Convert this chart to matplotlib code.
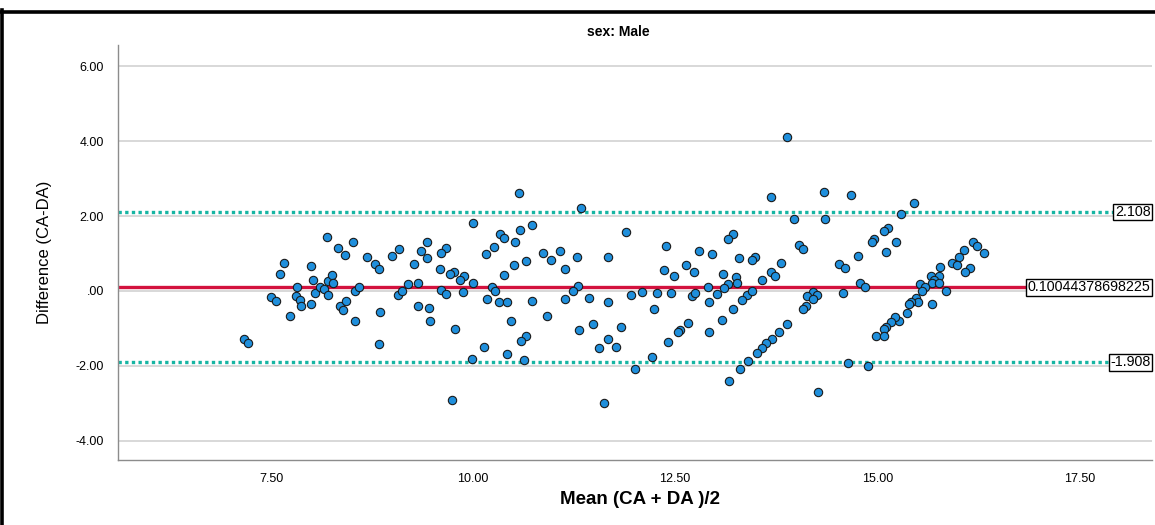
import matplotlib
matplotlib.use('Agg')
import matplotlib.pyplot as plt
from matplotlib.lines import Line2D

# Bland-Altman data (mean, difference)
mean_vals = [
    7.16, 7.21, 7.50, 7.56, 7.66, 7.61, 7.74, 7.82, 7.81, 7.86, 7.87, 7.99, 8.00, 8.02, 8.04,
    8.11, 8.15, 8.20, 8.26, 8.27, 8.21, 8.19, 8.33, 8.42, 8.51, 8.35, 8.43, 8.39, 8.54, 8.54,
    8.59, 8.69, 8.78, 8.84, 8.85, 8.83, 9.00, 9.08, 9.07, 9.12, 9.20, 9.32, 9.27, 9.35, 9.43,
    9.43, 9.32, 9.46, 9.47,
    10.57, 11.33, 10.00, 10.58, 10.73, 10.33, 10.38, 10.52, 10.26, 10.16, 11.89, 9.67, 9.60,
    10.86, 11.08, 10.96, 11.28, 11.67, 10.66, 10.51, 11.14, 9.59, 9.76, 9.71, 9.89, 9.84,
    10.38, 10.00, 10.23, 11.30, 9.60, 9.67, 9.88, 10.27, 10.17, 10.32, 10.42, 10.73, 11.23,
    11.14, 11.44, 11.67, 11.95, 9.78, 10.47, 10.91, 11.31, 11.48, 11.83, 10.66, 10.59, 10.13,
    10.42, 9.98, 10.63, 11.67, 11.56, 11.77, 12.00, 9.74, 11.62,
    13.88, 14.34, 13.69, 13.97, 14.36, 13.21, 13.15, 12.39, 14.03, 14.08, 12.80, 12.95, 13.29,
    13.49, 13.45, 13.81, 14.53, 12.63, 12.36, 12.73, 12.48, 13.09, 13.25, 13.68, 13.74, 13.58,
    13.26, 13.15, 12.91, 13.10, 12.09, 12.27, 12.45, 12.71, 12.74, 13.02, 12.92, 13.39, 13.45,
    13.33, 14.20, 14.13, 14.26, 14.21, 14.12, 14.08, 14.58, 12.24, 13.21, 13.08, 12.66, 12.56,
    12.54, 12.92, 12.41, 13.88, 13.78, 13.70, 13.63, 13.57, 13.51, 13.40, 13.30, 12.21, 13.16,
    14.27,
    14.68, 15.45, 15.30, 15.13, 15.08, 14.96, 14.94, 15.23, 15.11, 14.76, 14.60, 14.79, 14.85,
    16.18, 16.23, 16.32, 16.08, 16.01, 15.92, 15.99, 15.78, 16.15, 16.09, 15.66, 15.76, 15.70,
    15.68, 15.76, 15.53, 15.59, 15.56, 15.85, 15.48, 15.51, 15.42, 15.39, 15.68, 15.37, 15.27,
    15.22, 15.17, 15.11, 15.08, 14.99, 15.09, 14.64, 14.89,
]
diff_vals = [
    -1.29, -1.40, -0.17, -0.26, 0.75, 0.45, -0.67, 0.10, -0.14, -0.24, -0.40, -0.36, 0.67, 0.30, -0.05,
    0.11, 0.06, 0.27, 0.42, 0.20, -0.12, 1.45, 1.15, 0.95, 1.31, -0.40, -0.26, -0.51, -0.80, 0.00,
    0.11, 0.90, 0.72, 0.59, -0.56, -1.41, 0.93, 1.11, -0.11, -0.01, 0.18, 0.21, 0.72, 1.07, 1.31,
    0.88, -0.40, -0.46, -0.80,
    2.61, 2.21, 1.81, 1.63, 1.76, 1.52, 1.42, 1.30, 1.18, 0.98, 1.57, 1.15, 1.00,
    1.02, 1.07, 0.82, 0.90, 0.90, 0.81, 0.69, 0.59, 0.58, 0.51, 0.44, 0.41, 0.29,
    0.42, 0.20, 0.11, 0.14, 0.01, -0.08, -0.03, -0.01, -0.22, -0.30, -0.30, -0.27, 0.00,
    -0.21, -0.18, -0.30, -0.11, -1.03, -0.80, -0.67, -1.04, -0.89, -0.96, -1.20, -1.34, -1.50,
    -1.69, -1.82, -1.86, -1.29, -1.53, -1.50, -2.09, -2.91, -3.00,
    4.10, 2.65, 2.50, 1.91, 1.91, 1.51, 1.39, 1.20, 1.22, 1.12, 1.06, 0.98, 0.88,
    0.91, 0.83, 0.75, 0.72, 0.70, 0.56, 0.50, 0.39, 0.46, 0.38, 0.51, 0.41, 0.28,
    0.21, 0.18, 0.11, 0.07, -0.04, -0.05, -0.07, -0.14, -0.07, -0.09, -0.29, -0.11, 0.00,
    -0.24, -0.02, -0.15, -0.11, -0.22, -0.40, -0.48, -0.05, -0.49, -0.49, -0.77, -0.85, -1.04,
    -1.10, -1.10, -1.36, -0.89, -1.11, -1.29, -1.39, -1.54, -1.65, -1.88, -2.09, -1.77, -2.40,
    -2.70,
    2.56, 2.36, 2.05, 1.69, 1.60, 1.38, 1.30, 1.31, 1.05, 0.92, 0.60, 0.20, 0.11,
    1.31, 1.21, 1.00, 1.09, 0.91, 0.75, 0.69, 0.65, 0.62, 0.50, 0.41, 0.41, 0.29,
    0.22, 0.20, 0.18, 0.11, 0.00, 0.00, -0.20, -0.30, -0.30, -0.36, -0.36, -0.60, -0.80,
    -0.71, -0.82, -0.96, -1.02, -1.20, -1.20, -1.93, -2.01,
]

mean_diff = 0.10044378698225
upper_loa = 2.108
lower_loa = -1.908

y_ticks = [6, 4, 2, 0, -2, -4]
y_tick_labels = ['6.00', '4.00', '2.00', '.00', '-2.00', '-4.00']
x_ticks = [7.5, 10, 12.5, 15, 17.5]
x_tick_labels = ['7.50', '10.00', '12.50', '15.00', '17.50']

plain = ['Liberation Sans', 'DejaVu Sans']

fig = plt.figure(figsize=(11.55, 5.25), dpi=100)
ax = fig.add_axes([118 / 1155, 1 - 460 / 525, (1152 - 118) / 1155, (460 - 45) / 525])

ax.set_xlim(5.606, 18.40)
ax.set_ylim(-4.52, 6.57)

ax.set_yticks(y_ticks)
ax.set_yticklabels(y_tick_labels, family=plain, fontsize=9)
ax.set_xticks(x_ticks)
ax.set_xticklabels(x_tick_labels, family=plain, fontsize=9)
ax.tick_params(length=0)
ax.tick_params(axis='y', pad=10)
ax.tick_params(axis='x', pad=9)

ax.grid(axis='y', color='#d6d6d6', linewidth=1.3)
ax.set_axisbelow(True)
for side in ['top', 'right']:
    ax.spines[side].set_visible(False)
for side in ['left', 'bottom']:
    ax.spines[side].set_color('#8c8c8c')
    ax.spines[side].set_linewidth(1.0)

ax.axhline(upper_loa, color='#17b5a3', linewidth=2.4, linestyle=(0, (1, 1)), zorder=2)
ax.axhline(lower_loa, color='#17b5a3', linewidth=2.4, linestyle=(0, (1, 1)), zorder=2)
ax.axhline(mean_diff, color='#d3123e', linewidth=2.4, zorder=2)

ax.scatter(mean_vals, diff_vals, s=36, color='#1f8fdc', edgecolors='#1a1a1a',
           linewidths=0.8, zorder=3)

box = dict(boxstyle='square,pad=0.1', facecolor='white', edgecolor='black', linewidth=1.0)
for val, txt in [(upper_loa, '2.108'), (mean_diff, '0.10044378698225'), (lower_loa, '-1.908')]:
    ax.text(0.9985, val, txt, transform=ax.get_yaxis_transform(), ha='right', va='center',
            fontsize=10.3, family=plain, bbox=box, zorder=5)

ax.set_ylabel('Difference (CA-DA)', family=plain, fontsize=12)
ax.yaxis.set_label_coords(-66 / 1034, 0.5)
fig.text(640 / 1155, 1 - 500 / 525, 'Mean (CA + DA )/2', ha='center', va='center',
         fontsize=13.5, fontweight='bold', family=plain)
fig.text(618 / 1155, 1 - 32 / 525, 'sex: Male', ha='center', va='center',
         fontsize=10, fontweight='bold', family=plain)

# black frame around the chart
fig.add_artist(Line2D([0, 1], [1 - 11.5 / 525, 1 - 11.5 / 525], color='black', linewidth=2.6,
                      transform=fig.transFigure))
fig.add_artist(Line2D([2 / 1155, 2 / 1155], [0, 1 - 10 / 525], color='black', linewidth=2.6,
                      transform=fig.transFigure))

fig.savefig('out.png', dpi=100)
